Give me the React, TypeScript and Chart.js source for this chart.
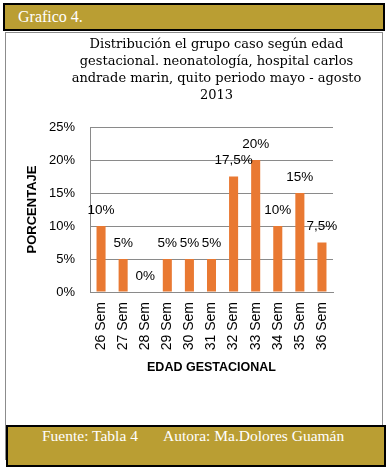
import React, { useEffect, useRef } from 'react';
import { Chart, registerables } from 'chart.js';

Chart.register(...registerables);

const categories = ['26 Sem', '27 Sem', '28 Sem', '29 Sem', '30 Sem', '31 Sem', '32 Sem', '33 Sem', '34 Sem', '35 Sem', '36 Sem'];
const values = [10, 5, 0, 5, 5, 5, 17.5, 20, 10, 15, 7.5];
const valueLabels = ['10%', '5%', '0%', '5%', '5%', '5%', '17,5%', '20%', '10%', '15%', '7,5%'];
const yMin = 0;
const yMax = 25;
const yStep = 5;
const titleLines = [
  'Distribución el grupo caso según edad',
  'gestacional. neonatología, hospital carlos',
  'andrade marin, quito periodo mayo - agosto',
  '2013',
];
const xTitle = 'EDAD GESTACIONAL';
const yTitle = 'PORCENTAJE';
const headerText = 'Grafico 4.';
const footerLeft = 'Fuente: Tabla 4';
const footerRight = 'Autora: Ma.Dolores Guamán';

const BAR_COLOR = '#E97932';
const GRID_COLOR = '#8a8a8a';
const BANNER_COLOR = '#BA9E33';

const valueLabelPlugin = {
  id: 'valueLabelPlugin',
  afterDatasetsDraw(chart: any) {
    const ctx = chart.ctx;
    const meta = chart.getDatasetMeta(0);
    ctx.save();
    ctx.font = '13.5px "Liberation Sans", Arial, sans-serif';
    ctx.fillStyle = '#000';
    ctx.textAlign = 'center';
    ctx.textBaseline = 'middle';
    meta.data.forEach((bar: any, i: number) => {
      ctx.fillText(valueLabels[i], bar.x, bar.y - 16);
    });
    ctx.restore();
  },
};

const titlePlugin = {
  id: 'offsetTitle',
  afterDraw(chart: any) {
    const ctx = chart.ctx;
    ctx.save();
    ctx.font = '13px "DejaVu Serif", serif';
    ctx.fillStyle = '#000';
    ctx.textAlign = 'center';
    ctx.textBaseline = 'middle';
    const cx = (chart.chartArea.left + chart.chartArea.right) / 2 + 5;
    titleLines.forEach((line, i) => {
      ctx.fillText(line, cx, 11 + i * 17);
    });
    ctx.restore();
  },
};

export default function App() {
  const canvasRef = useRef<HTMLCanvasElement | null>(null);

  useEffect(() => {
    if (!canvasRef.current) return;
    const chart = new Chart(canvasRef.current, {
      type: 'bar',
      data: {
        labels: categories,
        datasets: [
          {
            data: values,
            backgroundColor: BAR_COLOR,
            borderWidth: 0,
            categoryPercentage: 1,
            barPercentage: 0.41,
          },
        ],
      },
      options: {
        animation: false,
        responsive: false,
        devicePixelRatio: 1,
        layout: { padding: { left: 0, right: 49, top: 93, bottom: 0 } },
        plugins: {
          legend: { display: false },
          tooltip: { enabled: false },
          title: { display: false },
        },
        scales: {
          x: {
            grid: { display: false, drawTicks: false },
            border: { display: true, color: GRID_COLOR, width: 1 },
            ticks: {
              autoSkip: false,
              maxRotation: 90,
              minRotation: 90,
              padding: 10,
              color: '#000',
              font: { family: '"Liberation Sans", Arial, sans-serif', size: 14 },
            },
            title: {
              display: true,
              text: xTitle,
              color: '#000',
              font: { family: '"Liberation Sans", Arial, sans-serif', size: 12.5, weight: 'bold' },
              padding: { top: 0, bottom: 50 },
            },
            afterFit: (scale: any) => {
              scale.height = 133;
            },
          },
          y: {
            min: yMin,
            max: yMax,
            ticks: {
              stepSize: yStep,
              padding: 15,
              color: '#000',
              font: { family: '"Liberation Sans", Arial, sans-serif', size: 13 },
              callback: (v: any) => v + '%',
            },
            grid: { color: GRID_COLOR, drawTicks: false },
            border: { display: true, color: GRID_COLOR, width: 1 },
            title: {
              display: true,
              text: yTitle,
              color: '#000',
              font: { family: '"Liberation Sans", Arial, sans-serif', size: 13, weight: 'bold' },
              padding: { top: 19, bottom: 0 },
            },
            afterFit: (scale: any) => {
              scale.width = 84;
            },
          },
        },
      },
      plugins: [valueLabelPlugin, titlePlugin],
    });
    return () => chart.destroy();
  }, []);

  const serif = '"Liberation Serif", "Times New Roman", serif';

  return (
    <div style={{ position: 'absolute', left: 0, top: 0, width: 388, height: 473, background: '#fff', overflow: 'hidden' }}>
      <div
        style={{
          position: 'absolute', left: 3, top: 3, width: 382, height: 28, boxSizing: 'border-box',
          border: '2px solid #000', background: BANNER_COLOR, color: '#fff', fontFamily: serif,
          fontSize: 16, lineHeight: '23px', paddingLeft: 13,
        }}
      >
        {headerText}
      </div>
      <div
        style={{
          position: 'absolute', left: 5, top: 32, width: 378, height: 428, boxSizing: 'border-box',
          border: '1px solid #8c8c8c', background: '#fff',
        }}
      />
      <canvas
        ref={canvasRef}
        width={376}
        height={391}
        style={{ position: 'absolute', left: 6, top: 34, width: 376, height: 391 }}
      />
      <div
        style={{
          position: 'absolute', left: 6, top: 425, width: 380, height: 42, boxSizing: 'border-box',
          border: '2px solid #000', background: BANNER_COLOR, color: '#fff', fontFamily: serif,
          fontSize: 15.5, lineHeight: '18px', whiteSpace: 'pre',
        }}
      >
        <span style={{ position: 'absolute', left: 34, top: 0 }}>{footerLeft}</span>
        <span style={{ position: 'absolute', left: 155, top: 0 }}>{footerRight}</span>
      </div>
    </div>
  );
}
